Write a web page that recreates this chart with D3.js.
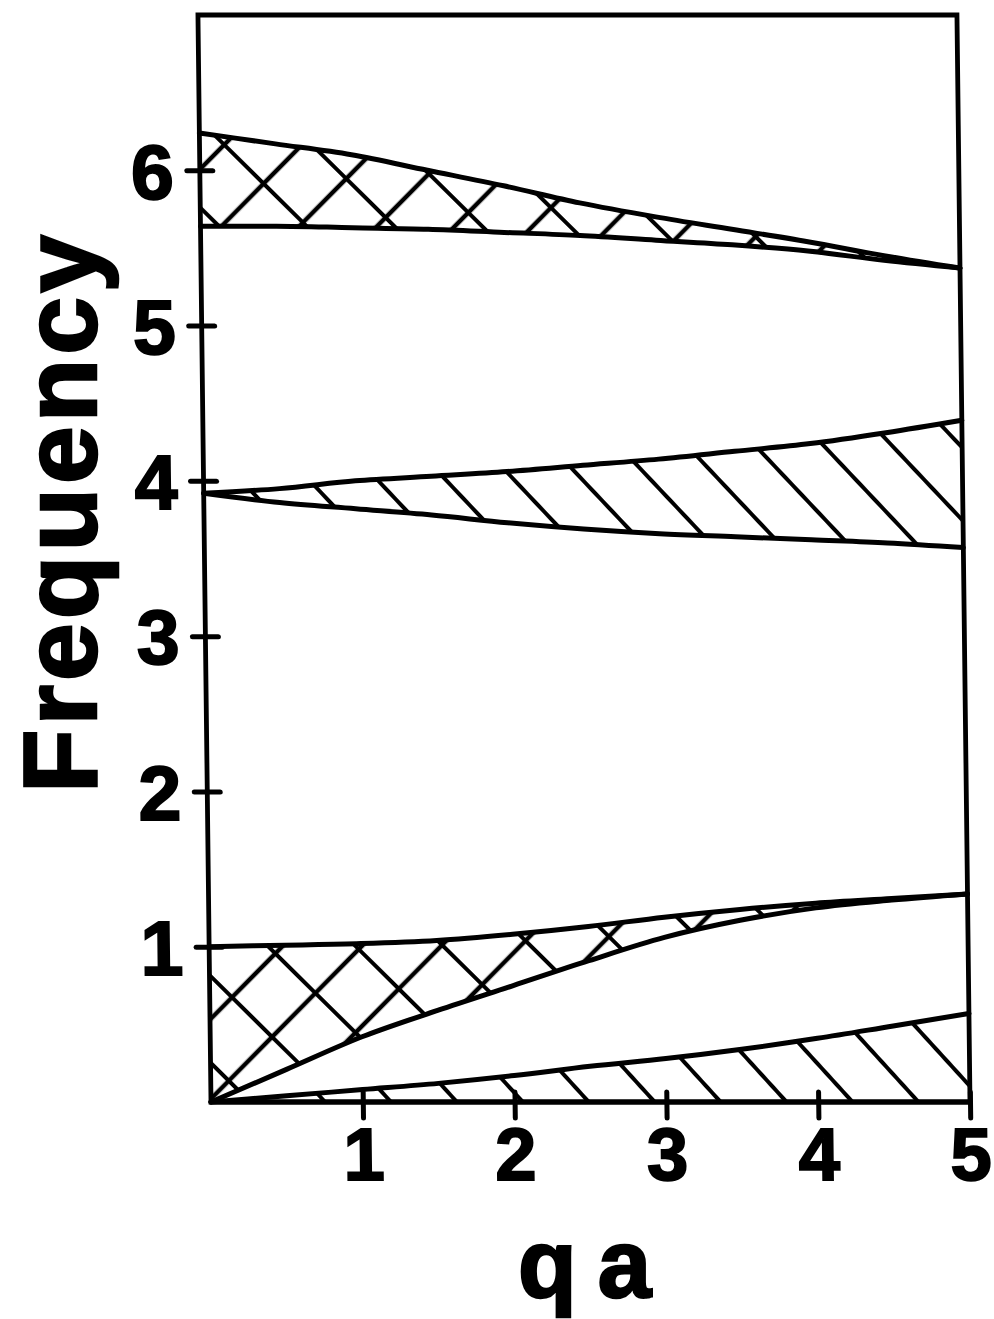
<!DOCTYPE html>
<html><head><meta charset="utf-8">
<script src="https://cdn.jsdelivr.net/npm/d3@7"></script>
<style>body{margin:0;background:#fff}</style>
</head><body>
<svg id="chart" width="994" height="1319"></svg>
<script>
// ---- data ----
const qa = [0, 0.5, 1, 1.5, 2, 2.5, 3, 3.5, 4, 4.5, 5];
const band1Upper = [6.24, 6.17, 6.10, 6.00, 5.90, 5.79, 5.70, 5.62, 5.54, 5.45, 5.37];
const band1Lower = [5.64, 5.64, 5.63, 5.62, 5.60, 5.58, 5.55, 5.52, 5.48, 5.42, 5.37];
const band2Upper = [3.92, 3.95, 4.00, 4.03, 4.06, 4.10, 4.14, 4.19, 4.24, 4.31, 4.39];
const band2Lower = [3.92, 3.86, 3.82, 3.78, 3.73, 3.69, 3.66, 3.64, 3.62, 3.60, 3.57];
const band3Upper = [1.00, 1.01, 1.02, 1.04, 1.08, 1.13, 1.19, 1.24, 1.28, 1.31, 1.34];
const band3Lower = [0.00, 0.21, 0.42, 0.59, 0.75, 0.91, 1.06, 1.17, 1.25, 1.30, 1.34];
const band4Upper = [0.00, 0.04, 0.08, 0.12, 0.17, 0.23, 0.28, 0.34, 0.41, 0.49, 0.57];
const band4Lower = [0, 0, 0, 0, 0, 0, 0, 0, 0, 0, 0];
const xTicks = [1, 2, 3, 4, 5];
const yTicks = [1, 2, 3, 4, 5, 6];
const xTitle = "qa";
const yTitle = "Frequency";

// ---- layout ----
const svg = d3.select("#chart");
const x = d3.scaleLinear().domain([0, 5]).range([211, 970]);
const y = d3.scaleLinear().domain([0, 7]).range([1102, 15]);
const skewDeg = Math.atan(0.012) * 180 / Math.PI;

const defs = svg.append("defs");
function hatch(id, angle, spacing, ox, oy, sw, bg) {
  const p = defs.append("pattern").attr("id", id)
    .attr("patternUnits", "userSpaceOnUse")
    .attr("width", 40).attr("height", spacing)
    .attr("patternTransform", `translate(${ox},${oy}) rotate(${angle})`);
  if (bg) p.append("rect").attr("width", 40).attr("height", spacing).attr("fill", "#fff");
  [0, spacing].forEach(v => p.append("line").attr("x1", -1).attr("x2", 41)
    .attr("y1", v).attr("y2", v).attr("stroke", "#000").attr("stroke-width", sw));
}
// single diagonal hatch "\"
hatch("h2", 47, 50, 578, 467, 4.2, true);
hatch("h4", 48, 49, 587, 1100, 4.2, true);
// cross hatch = "\" family + "/" family
hatch("c1a", 45, 62, 234, 143, 4.2, true);
hatch("c1b", -45, 55, 311, 225, 4.2, false);
hatch("c3a", 45, 62, 444, 945, 4.2, true);
hatch("c3b", -45, 56, 444, 945, 4.2, false);

const g = svg.append("g")
  .attr("transform", `translate(0,1102) skewX(${skewDeg}) translate(0,-1102)`);

const rows = (lo, hi) => qa.map((q, i) => ({ q, lo: lo[i], hi: hi[i] }));
const area = d3.area().x(d => x(d.q)).y0(d => y(d.lo)).y1(d => y(d.hi)).curve(d3.curveMonotoneX);
const lineHi = d3.line().x(d => x(d.q)).y(d => y(d.hi)).curve(d3.curveMonotoneX);
const lineLo = d3.line().x(d => x(d.q)).y(d => y(d.lo)).curve(d3.curveMonotoneX);

const bands = [
  { data: rows(band1Lower, band1Upper), fills: ["c1a", "c1b"] },
  { data: rows(band2Lower, band2Upper), fills: ["h2"] },
  { data: rows(band3Lower, band3Upper), fills: ["c3a", "c3b"] },
  { data: rows(band4Lower, band4Upper), fills: ["h4"] }
];
bands.forEach(b => {
  b.fills.forEach(f => g.append("path").datum(b.data).attr("d", area)
    .attr("fill", `url(#${f})`).attr("stroke", "none"));
});
bands.forEach(b => {
  [lineHi, lineLo].forEach(l => g.append("path").datum(b.data).attr("d", l)
    .attr("fill", "none").attr("stroke", "#000").attr("stroke-width", 5)
    .attr("stroke-linejoin", "round").attr("stroke-linecap", "round"));
});

// frame
g.append("rect").attr("x", x(0)).attr("y", y(7))
  .attr("width", x(5) - x(0)).attr("height", y(0) - y(7))
  .attr("fill", "none").attr("stroke", "#000").attr("stroke-width", 4.8);

const fontFam = "'Liberation Sans', Arial, Helvetica, sans-serif";

// y axis
const ya = g.append("g").attr("transform", `translate(${x(0)},0)`)
  .call(d3.axisLeft(y).tickValues(yTicks).tickSize(13).tickSizeOuter(0).tickPadding(13).tickFormat(d3.format("d")));
ya.select(".domain").remove();
ya.selectAll(".tick line").attr("x1", 13).attr("stroke", "#000").attr("stroke-width", 5).attr("stroke-linecap", "round");
ya.selectAll(".tick text").attr("font-family", fontFam).attr("font-weight", "bold")
  .attr("font-size", 77).attr("fill", "#000").attr("stroke", "#000").attr("stroke-width", 2)
  .attr("dy", "0.36em");

// x axis
const xa = g.append("g").attr("transform", `translate(0,${y(0)})`)
  .call(d3.axisBottom(x).tickValues(xTicks).tickSize(16).tickSizeOuter(0).tickFormat(d3.format("d")));
xa.select(".domain").remove();
xa.selectAll(".tick line").attr("y1", -10).attr("stroke", "#000").attr("stroke-width", 5).attr("stroke-linecap", "round");
xa.selectAll(".tick text").attr("font-family", fontFam).attr("font-weight", "bold")
  .attr("font-size", 74).attr("fill", "#000").attr("stroke", "#000").attr("stroke-width", 2)
  .attr("y", 78).attr("dy", 0);

// titles
svg.append("text").attr("transform", "translate(96,512) rotate(-90)")
  .attr("text-anchor", "middle").attr("font-family", fontFam).attr("font-weight", "bold")
  .attr("font-size", 104).attr("letter-spacing", 4).attr("fill", "#000")
  .attr("stroke", "#000").attr("stroke-width", 2.5).text(yTitle);
svg.append("text").attr("x", 518).attr("y", 1297)
  .attr("font-family", fontFam).attr("font-weight", "bold")
  .attr("font-size", 96).attr("letter-spacing", 21).attr("fill", "#000")
  .attr("stroke", "#000").attr("stroke-width", 2.5).text(xTitle);
</script>
</body></html>
